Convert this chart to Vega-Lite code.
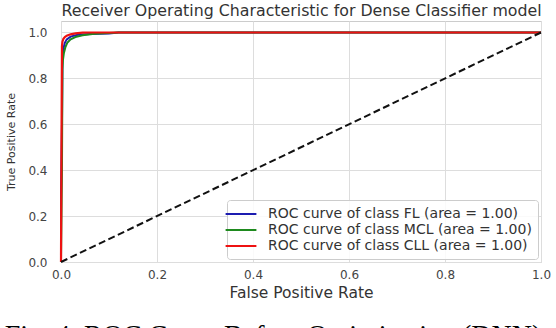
{
  "$schema": "https://vega.github.io/schema/vega-lite/v6.json",
  "autosize": {"type": "none"},
  "width": 480,
  "height": 241,
  "padding": {"left": 61, "top": 21, "right": 15, "bottom": 66},
  "background": "white",
  "title": {
    "text": "Fig. 4. ROC Curve Before Optimization (DNN)",
    "orient": "bottom",
    "anchor": "middle",
    "dx": -28,
    "offset": 21,
    "font": "Liberation Serif",
    "fontSize": 28,
    "fontWeight": "normal",
    "color": "#000000",
    "baseline": "top"
  },
  "datasets": {
    "diag": [{"fpr": 0, "tpr": 0}, {"fpr": 1, "tpr": 1}],
    "roc": [
      {"series": "ROC curve of class FL (area = 1.00)", "fpr": 0, "tpr": 0},
      {"series": "ROC curve of class FL (area = 1.00)", "fpr": 0, "tpr": 0.3},
      {"series": "ROC curve of class FL (area = 1.00)", "fpr": 0.002, "tpr": 0.6},
      {"series": "ROC curve of class FL (area = 1.00)", "fpr": 0.003, "tpr": 0.88},
      {"series": "ROC curve of class FL (area = 1.00)", "fpr": 0.005, "tpr": 0.93},
      {"series": "ROC curve of class FL (area = 1.00)", "fpr": 0.008, "tpr": 0.955},
      {"series": "ROC curve of class FL (area = 1.00)", "fpr": 0.012, "tpr": 0.97},
      {"series": "ROC curve of class FL (area = 1.00)", "fpr": 0.02, "tpr": 0.982},
      {"series": "ROC curve of class FL (area = 1.00)", "fpr": 0.035, "tpr": 0.99},
      {"series": "ROC curve of class FL (area = 1.00)", "fpr": 0.06, "tpr": 0.993},
      {"series": "ROC curve of class FL (area = 1.00)", "fpr": 0.1, "tpr": 0.996},
      {"series": "ROC curve of class FL (area = 1.00)", "fpr": 0.12, "tpr": 1.0},
      {"series": "ROC curve of class FL (area = 1.00)", "fpr": 1, "tpr": 1.0},
      {"series": "ROC curve of class MCL (area = 1.00)", "fpr": 0, "tpr": 0},
      {"series": "ROC curve of class MCL (area = 1.00)", "fpr": 0.002, "tpr": 0.4},
      {"series": "ROC curve of class MCL (area = 1.00)", "fpr": 0.003, "tpr": 0.84},
      {"series": "ROC curve of class MCL (area = 1.00)", "fpr": 0.004, "tpr": 0.88},
      {"series": "ROC curve of class MCL (area = 1.00)", "fpr": 0.006, "tpr": 0.91},
      {"series": "ROC curve of class MCL (area = 1.00)", "fpr": 0.009, "tpr": 0.935},
      {"series": "ROC curve of class MCL (area = 1.00)", "fpr": 0.013, "tpr": 0.955},
      {"series": "ROC curve of class MCL (area = 1.00)", "fpr": 0.02, "tpr": 0.97},
      {"series": "ROC curve of class MCL (area = 1.00)", "fpr": 0.03, "tpr": 0.98},
      {"series": "ROC curve of class MCL (area = 1.00)", "fpr": 0.045, "tpr": 0.988},
      {"series": "ROC curve of class MCL (area = 1.00)", "fpr": 0.07, "tpr": 0.994},
      {"series": "ROC curve of class MCL (area = 1.00)", "fpr": 0.1, "tpr": 0.998},
      {"series": "ROC curve of class MCL (area = 1.00)", "fpr": 0.12, "tpr": 1.0},
      {"series": "ROC curve of class MCL (area = 1.00)", "fpr": 1, "tpr": 1.0},
      {"series": "ROC curve of class CLL (area = 1.00)", "fpr": 0, "tpr": 0},
      {"series": "ROC curve of class CLL (area = 1.00)", "fpr": 0.001, "tpr": 0.5},
      {"series": "ROC curve of class CLL (area = 1.00)", "fpr": 0.002, "tpr": 0.94},
      {"series": "ROC curve of class CLL (area = 1.00)", "fpr": 0.003, "tpr": 0.96},
      {"series": "ROC curve of class CLL (area = 1.00)", "fpr": 0.005, "tpr": 0.972},
      {"series": "ROC curve of class CLL (area = 1.00)", "fpr": 0.008, "tpr": 0.98},
      {"series": "ROC curve of class CLL (area = 1.00)", "fpr": 0.012, "tpr": 0.986},
      {"series": "ROC curve of class CLL (area = 1.00)", "fpr": 0.02, "tpr": 0.992},
      {"series": "ROC curve of class CLL (area = 1.00)", "fpr": 0.03, "tpr": 0.996},
      {"series": "ROC curve of class CLL (area = 1.00)", "fpr": 0.045, "tpr": 0.999},
      {"series": "ROC curve of class CLL (area = 1.00)", "fpr": 0.06, "tpr": 1.0},
      {"series": "ROC curve of class CLL (area = 1.00)", "fpr": 1, "tpr": 1.0}
    ]
  },
  "resolve": {"axis": {"x": "independent"}},
  "layer": [
    {
      "data": {"name": "roc"},
      "transform": [{"filter": "datum.series === 'ROC curve of class FL (area = 1.00)'"}],
      "mark": {"type": "line", "strokeWidth": 2},
      "encoding": {
        "x": {
          "field": "fpr", "type": "quantitative",
          "scale": {"domain": [0, 1], "nice": false, "zero": false},
          "axis": {
            "orient": "bottom",
            "values": [0, 0.2, 0.4, 0.6, 0.8, 1.0],
            "format": ".1f",
            "labelFlush": false,
            "title": "False Positive Rate",
            "titleFontSize": 15.5,
            "labelPadding": 7,
            "titlePadding": 5
          }
        },
        "y": {
          "field": "tpr", "type": "quantitative",
          "scale": {"domain": [0, 1.05], "nice": false, "zero": false},
          "axis": {
            "values": [0, 0.2, 0.4, 0.6, 0.8, 1.0],
            "format": ".1f",
            "labelFlush": false,
            "title": "True Positive Rate",
            "titleFontSize": 11,
            "labelPadding": 14,
            "titlePadding": 11
          }
        },
        "color": {
          "field": "series", "type": "nominal",
          "scale": {
            "domain": ["ROC curve of class FL (area = 1.00)", "ROC curve of class MCL (area = 1.00)", "ROC curve of class CLL (area = 1.00)"],
            "range": ["#1c1cb0", "#1e8a1e", "#ee1111"]
          },
          "legend": {
            "title": null,
            "orient": "bottom-right",
            "offset": 3,
            "symbolType": "M-2.2,0H2.2",
            "symbolSize": 196,
            "symbolStrokeWidth": 2,
            "labelFontSize": 14,
            "labelColor": "#333333",
            "labelOffset": 19,
            "rowPadding": 1,
            "padding": 6,
            "fillColor": "rgba(255,255,255,0.85)",
            "strokeColor": "#cccccc",
            "cornerRadius": 3,
            "labelLimit": 400
          }
        },
        "order": {"value": null}
      }
    },
    {
      "data": {"name": "roc"},
      "transform": [{"filter": "datum.series === 'ROC curve of class MCL (area = 1.00)'"}],
      "mark": {"type": "line", "strokeWidth": 2},
      "encoding": {
        "x": {"field": "fpr", "type": "quantitative", "axis": null},
        "y": {"field": "tpr", "type": "quantitative"},
        "color": {"field": "series", "type": "nominal"},
        "order": {"value": null}
      }
    },
    {
      "data": {"name": "roc"},
      "transform": [{"filter": "datum.series === 'ROC curve of class CLL (area = 1.00)'"}],
      "mark": {"type": "line", "strokeWidth": 2.2},
      "encoding": {
        "x": {"field": "fpr", "type": "quantitative", "axis": null},
        "y": {"field": "tpr", "type": "quantitative"},
        "color": {"field": "series", "type": "nominal"},
        "order": {"value": null}
      }
    },
    {
      "data": {"name": "diag"},
      "mark": {"type": "line", "color": "#111111", "strokeWidth": 2, "strokeDash": [7, 3.5]},
      "encoding": {
        "x": {
          "field": "fpr", "type": "quantitative",
          "axis": {
            "orient": "top",
            "labels": false,
            "ticks": false,
            "domain": false,
            "grid": false,
            "title": "Receiver Operating Characteristic for Dense Classifier model",
            "titleFontSize": 15.8,
            "titlePadding": 3,
            "titleColor": "#333333"
          }
        },
        "y": {"field": "tpr", "type": "quantitative"}
      }
    }
  ],
  "config": {
    "font": "DejaVu Sans",
    "view": {"stroke": "#cccccc", "strokeWidth": 1},
    "axis": {
      "domain": false,
      "ticks": false,
      "tickSize": 0,
      "grid": true,
      "gridColor": "#dddddd",
      "gridWidth": 1,
      "labelFont": "DejaVu Sans",
      "labelFontSize": 12,
      "labelColor": "#444444",
      "titleFont": "DejaVu Sans",
      "titleFontWeight": "normal",
      "titleColor": "#333333"
    },
    "legend": {"labelFont": "DejaVu Sans"}
  }
}
